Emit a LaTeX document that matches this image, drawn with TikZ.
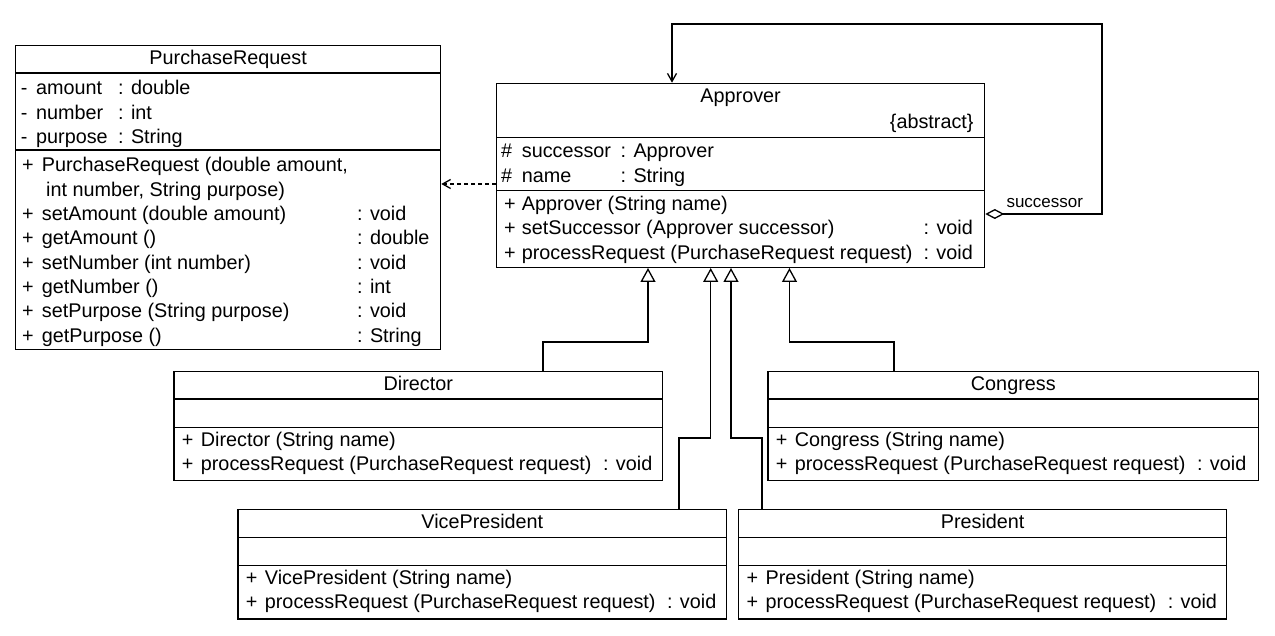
\documentclass[tikz,border=0pt]{standalone}
\usepackage{fontspec}
\setmainfont{Liberation Sans}
\usetikzlibrary{arrows.meta,calc}
\tikzset{
  classbox/.style={draw, line width=1.3pt, anchor=north west, inner sep=0pt},
  sepline/.style={line width=1.3pt},
  title/.style={anchor=base, inner sep=0pt},
  members/.style={anchor=base west, inner sep=0pt},
  inherit/.style={line width=1.3pt, -{Triangle[open, length=14pt, width=15pt]}},
  depend/.style={line width=1.3pt, dash pattern=on 4pt off 3pt, -{Straight Barb[length=8pt, width=9pt]}},
  assoc/.style={line width=1.3pt, {Diamond[open, length=19pt, width=10pt]}-{Straight Barb[length=8pt, width=9pt]}},
}
\begin{document}
\begin{tikzpicture}[x=1pt, y=-1pt, font=\fontsize{19.8}{24.3}\selectfont]
  \fill[white] (0,0) rectangle (1275,636);
  \useasboundingbox (0,0) rectangle (1275,636);

  % PurchaseRequest
  \node[classbox, minimum width=425pt, minimum height=304pt] (pr) at (15,45) {};
  \draw[sepline] ($(pr.north west)+(0,28)$) -- ($(pr.north east)+(0,28)$);
  \draw[sepline] ($(pr.north west)+(0,105)$) -- ($(pr.north east)+(0,105)$);
  \node[title] (pr-name) at ($(pr.north)+(0,20)$) {PurchaseRequest};
  \node[members] (pr-attr) at ($(pr.north west)+(5.7,50)$) {\begin{tabular}[t]{@{}p{15.3pt}@{}p{82pt}@{}l@{}}
    - & amount & : double\\
    - & number & : int\\
    - & purpose & : String
  \end{tabular}};
  \node[members] (pr-ops) at ($(pr.north west)+(7,127)$) {\begin{tabular}[t]{@{}p{19.7pt}@{}p{315.3pt}@{}l@{}}
    + & PurchaseRequest (double amount, & \\
      & \hspace{4.3pt}int number, String purpose) & \\
    + & setAmount (double amount) & : void\\
    + & getAmount () & : double\\
    + & setNumber (int number) & : void\\
    + & getNumber () & : int\\
    + & setPurpose (String purpose) & : void\\
    + & getPurpose () & : String
  \end{tabular}};

  % Approver
  \node[classbox, minimum width=488pt, minimum height=184pt] (appr) at (496,82.7) {};
  \draw[sepline] ($(appr.north west)+(0,55)$) -- ($(appr.north east)+(0,55)$);
  \draw[sepline] ($(appr.north west)+(0,108)$) -- ($(appr.north east)+(0,108)$);
  \node[title] (appr-name) at ($(appr.north)+(0,20.3)$) {Approver};
  \node[anchor=base east, inner sep=0pt] (appr-abs) at ($(appr.north east)+(-11.5,45.8)$) {\{abstract\}};
  \node[members] (appr-attr) at ($(appr.north west)+(5,75.3)$) {\begin{tabular}[t]{@{}p{20.7pt}@{}p{98.8pt}@{}l@{}}
    \# & successor & : Approver\\
    \# & name & : String
  \end{tabular}};
  \node[members] (appr-ops) at ($(appr.north west)+(8,128)$) {\begin{tabular}[t]{@{}p{17.7pt}@{}p{401.8pt}@{}l@{}}
    + & Approver (String name) & \\
    + & setSuccessor (Approver successor) & : void\\
    + & processRequest (PurchaseRequest request) & : void
  \end{tabular}};

  % concrete approvers
  \foreach \cls/\px/\py/\w in {Director/173.3/370.7/488.7, Congress/767.3/370.7/490.7,
      VicePresident/237.3/509/488.7, President/738/509/488}{
    \node[classbox, minimum width=\w pt, minimum height=109.3pt] (\cls) at (\px,\py) {};
    \draw[sepline] ($(\cls.north west)+(0,28.3)$) -- ($(\cls.north east)+(0,28.3)$);
    \draw[sepline] ($(\cls.north west)+(0,56.6)$) -- ($(\cls.north east)+(0,56.6)$);
    \node[title] (\cls-name) at ($(\cls.north)+(0,19.3)$) {\cls};
    \node[members] (\cls-ops) at ($(\cls.north west)+(8.4,75.3)$) {\begin{tabular}[t]{@{}p{19pt}@{}p{402.3pt}@{}l@{}}
      + & \cls{} (String name) & \\
      + & processRequest (PurchaseRequest request) & : void
    \end{tabular}};
  }

  % generalisations
  \coordinate (knee-dir) at (648,342);
  \coordinate (knee-vp) at (710.7,438);
  \coordinate (knee-pres) at (731,438);
  \coordinate (knee-cong) at (789.5,342);
  \draw[inherit] ([xshift=369.7pt]Director.north west) |- (knee-dir) -- (appr.south -| knee-dir);
  \draw[inherit] ([xshift=441.7pt]VicePresident.north west) |- (knee-vp) -- (appr.south -| knee-vp);
  \draw[inherit] ([xshift=24pt]President.north west) |- (knee-pres) -- (appr.south -| knee-pres);
  \draw[inherit] ([xshift=126.7pt]Congress.north west) |- (knee-cong) -- (appr.south -| knee-cong);

  % dependency
  \coordinate (dep) at ($(appr.north west)+(0,101.3)$);
  \draw[depend] (dep) -- (dep -| pr.east);

  % successor self association
  \coordinate (succ) at ($(appr.north east)+(0,131.3)$);
  \coordinate (loop-r) at (1102,24);
  \coordinate (loop-l) at (672,24);
  \draw[assoc] (succ) -| (loop-r) -- (loop-l) -- (appr.north -| loop-l);
  \node[anchor=base west, inner sep=0pt, font=\fontsize{17}{20}\selectfont] (succ-label) at ($(succ)+(21,-6.7)$) {successor};
\end{tikzpicture}
\end{document}
